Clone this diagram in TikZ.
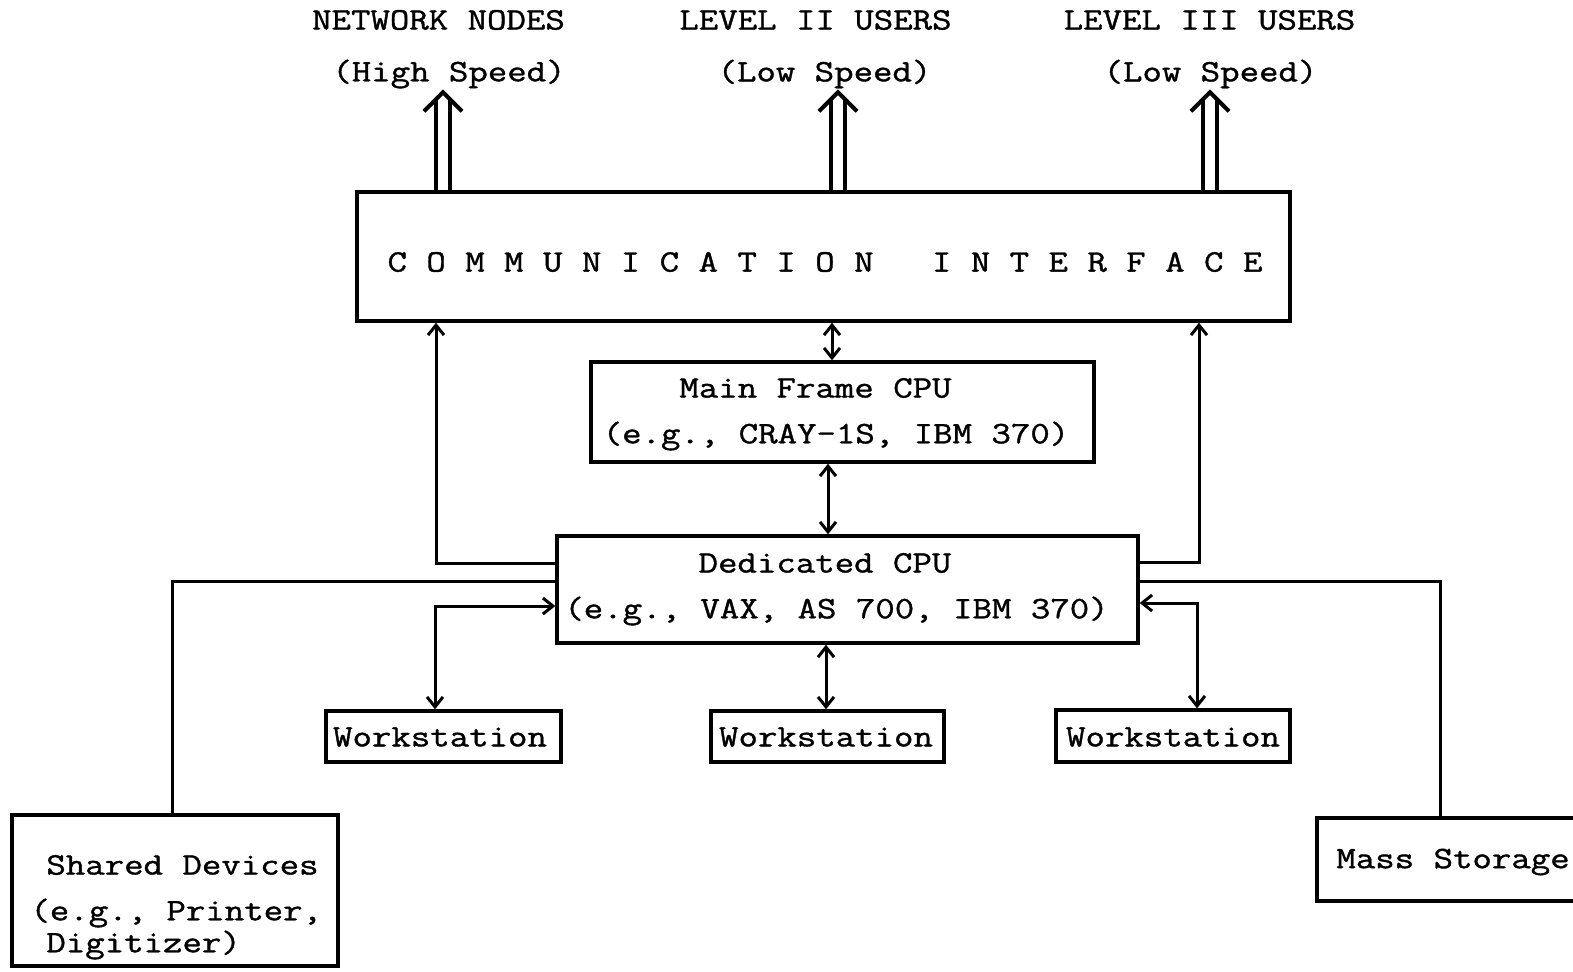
\documentclass[tikz,border=0pt]{standalone}
\usepackage{fontspec}
\newfontfamily\typewriter{Latin Modern Mono}[FakeStretch=1.21,FakeBold=1.2]
\usetikzlibrary{arrows.meta,calc}
\begin{document}
\begin{tikzpicture}[x=0.5pt,y=-0.5pt,
  box/.style={draw,line width=1.7pt,inner sep=0pt},
  lbl/.style={font=\typewriter\fontsize{15.6}{18}\selectfont,inner sep=0pt},
  link/.style={line width=1.5pt},
  tipend/.style={link,-{Straight Barb[length=5pt,width=8pt,line width=1.5pt]}},
  tipboth/.style={link,{Straight Barb[length=5pt,width=8pt,line width=1.5pt]}-{Straight Barb[length=5pt,width=8pt,line width=1.5pt]}},
  hollowup/.pic={
    \draw[line width=1.6pt,line cap=round] (-7,0) -- (-7,-90);
    \draw[line width=1.6pt,line cap=round] (7,0) -- (7,-90);
    \draw[line width=2pt,line join=miter] (-19,-79) -- (0,-98) -- (19,-79);
  }]
\useasboundingbox (0,0) rectangle (1573,971);

% boxes
\node[box,minimum width=466.5pt,minimum height=64.5pt] (CI) at (823.5,256.5) {};
\node[box,minimum width=251.5pt,minimum height=50pt] (MF) at (842.5,412) {};
\node[box,minimum width=290.5pt,minimum height=53.5pt] (DC) at (847.5,589.5) {};
\node[box,minimum width=117.5pt,minimum height=25.5pt] (W1) at (443.5,736.5) {};
\node[box,minimum width=116.5pt,minimum height=25.5pt] (W2) at (827.5,736.5) {};
\node[box,minimum width=117pt,minimum height=26pt] (W3) at (1173,736) {};
\node[box,minimum width=163pt,minimum height=75.5pt] (SD) at (175,890.5) {};
\node[box,minimum width=141.5pt,minimum height=41.5pt] (MS) at (1458.5,859.5) {};

% labels
\node[lbl] (tn1) at (438.5,20) {NETWORK NODES};
\node[lbl] (tn2) at (449,74) {(High Speed)};
\node[lbl] (tl1) at (815.5,20) {LEVEL II USERS};
\node[lbl] (tl2) at (824.5,74) {(Low Speed)};
\node[lbl] (tm1) at (1209.5,20) {LEVEL III USERS};
\node[lbl] (tm2) at (1210.5,74) {(Low Speed)};
\node[lbl] (ci) at (825,262) {C~O~M~M~U~N~I~C~A~T~I~O~N~~~I~N~T~E~R~F~A~C~E};
\node[lbl] (mf1) at (815.5,388) {Main Frame CPU};
\node[lbl] (mf2) at (836,436) {(e.g., CRAY-1S, IBM 370)};
\node[lbl] (dc1) at (825,563) {Dedicated CPU};
\node[lbl] (dc2) at (836.5,611) {(e.g., VAX, AS 700, IBM 370)};
\node[lbl] (w1) at (440,737) {Workstation};
\node[lbl] (w2) at (826,737) {Workstation};
\node[lbl] (w3) at (1173,737) {Workstation};
\node[lbl,anchor=west] (sd1) at (46,865) {Shared Devices};
\node[lbl,anchor=west] (sd2) at (30,913) {(e.g., Printer,};
\node[lbl,anchor=west] (sd3) at (46,945) {Digitizer)};
\node[lbl,anchor=west] (ms) at (1336,862) {Mass Storage};

% high and low speed outputs
\coordinate (t1) at (443,95);
\coordinate (t2) at (838,95);
\coordinate (t3) at (1210,95);
\foreach \t in {t1,t2,t3} \pic at (CI.north -| \t) {hollowup};

% vertical links
\coordinate (v1) at (832,340);
\coordinate (v2) at (828,500);
\coordinate (v3) at (826,680);
\draw[tipboth] (CI.south -| v1) -- (MF.north -| v1);
\draw[tipboth] (MF.south -| v2) -- (DC.north -| v2);
\draw[tipboth] (DC.south -| v3) -- (W2.north -| v3);

% dedicated CPU to communication interface
\coordinate (l1) at (436,563);
\coordinate (l2) at (1199,562);
\draw[tipend] (DC.west |- l1) -| (CI.south -| l1);
\draw[tipend] (DC.east |- l2) -| (CI.south -| l2);

% shared bus lines
\coordinate (b1) at (172,581);
\coordinate (b2) at (1440,581);
\draw[link] (DC.west |- b1) -| (SD.north -| b1);
\draw[link] (DC.east |- b2) -| (MS.north -| b2);

% side workstations
\coordinate (s1) at (435,606);
\coordinate (s3) at (1197,603);
\draw[tipboth] (DC.west |- s1) -| (W1.north -| s1);
\draw[tipboth] (DC.east |- s3) -| (W3.north -| s3);
\end{tikzpicture}
\end{document}
